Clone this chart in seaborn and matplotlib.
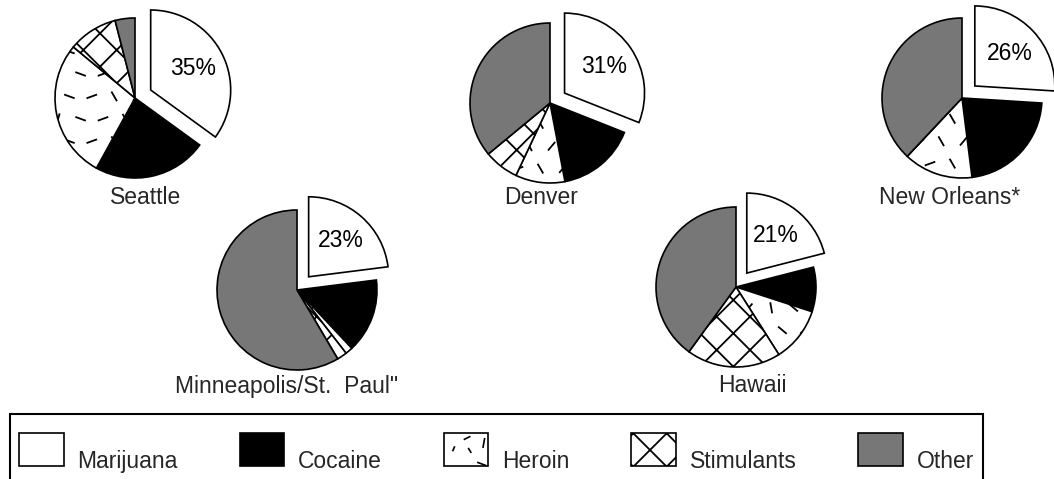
import numpy as np
import pandas as pd
import seaborn as sns
import matplotlib
matplotlib.use("Agg")
import matplotlib.pyplot as plt
from matplotlib.patches import Patch, Rectangle
from matplotlib.collections import LineCollection
from matplotlib.legend_handler import HandlerBase

# data (percent of arrestees by drug)
cities = ['Seattle', 'Denver', 'New Orleans*', 'Minneapolis/St.  Paul"', 'Hawaii']
drugs = ['Marijuana', 'Cocaine', 'Heroin', 'Stimulants', 'Other']
marijuana = [35, 31, 26, 23, 21]
cocaine = [23, 16, 22, 15, 9]
heroin = [28, 10, 14, 1.5, 11]
stimulants = [10, 7, 0, 2, 19]
other = [4, 36, 38, 58.5, 40]

df = pd.DataFrame({'Marijuana': marijuana, 'Cocaine': cocaine, 'Heroin': heroin,
                   'Stimulants': stimulants, 'Other': other}, index=cities)

W, H = 1054, 479
sns.set_theme(style="white")
plt.rcParams['font.family'] = ['Liberation Sans', 'DejaVu Sans']
plt.rcParams['hatch.linewidth'] = 1.3
FS = 16.5

GRAY = '#777777'
face = {'Marijuana': 'white', 'Cocaine': 'black', 'Heroin': 'white',
        'Stimulants': 'white', 'Other': GRAY}
hatch = {'Marijuana': '', 'Cocaine': '', 'Heroin': '', 'Stimulants': 'x', 'Other': ''}

# layout in pixels (centre of pie, centre of caption)
pie_xy = [(135, 98), (550, 103), (962, 98), (297, 290), (736, 287)]
cap_xy = [(146, 198), (541, 198), (950, 198), (287, 386), (752, 386)]
BOX = 240  # axes size in px, data range +-1.5 -> 80 px per unit


def dash_segments(lo=-1.1, hi=1.1, step=0.28, length=0.14):
    angs = [75, 160, 20, 120, 50, 100, 140, 35]
    segs = []
    k = 0
    for j, y in enumerate(np.arange(lo, hi, step)):
        shift = step / 2 if j % 2 else 0
        for x in np.arange(lo + shift, hi, step):
            a = np.deg2rad(angs[k % len(angs)])
            dx, dy = 0.5 * length * np.cos(a), 0.5 * length * np.sin(a)
            segs.append([(x - dx, y - dy), (x + dx, y + dy)])
            k += 1
    return segs


fig = plt.figure(figsize=(W / 100, H / 100), dpi=100)

for i, city in enumerate(cities):
    cx, cy = pie_xy[i]
    ax = fig.add_axes([(cx - BOX / 2) / W, 1 - (cy + BOX / 2) / H, BOX / W, BOX / H])
    vals = df.loc[city, drugs].values
    wedges, texts, autotexts = ax.pie(
        vals, explode=[0.22, 0, 0, 0, 0], startangle=90, counterclock=False,
        colors=[face[d] for d in drugs], hatch=[hatch[d] for d in drugs],
        autopct='%1.0f%%', pctdistance=0.6, radius=1,
        wedgeprops=dict(edgecolor='black', linewidth=1.2),
        textprops=dict(fontsize=FS, color='black'))
    for t in autotexts[1:]:
        t.set_text('')
    # scattered dash texture for heroin
    lc = LineCollection(dash_segments(), colors='black', linewidths=1.3)
    ax.add_collection(lc)
    lc.set_clip_path(wedges[2])
    ax.set_xlim(-1.5, 1.5)
    ax.set_ylim(-1.5, 1.5)
    ax.set_aspect('equal')
    ax.axis('off')
    lx, ly = cap_xy[i]
    fig.text(lx / W, 1 - ly / H, city, ha='center', va='center', fontsize=FS)


class DashBox(HandlerBase):
    def create_artists(self, legend, orig, xd, yd, w, h, fs, trans):
        box = Rectangle((-xd, -yd), w, h, facecolor='white', edgecolor='black',
                        lw=1.2, transform=trans)
        rel = [(0.2, 0.45, 0.25, 0.6), (0.55, 0.55, 0.62, 0.4), (0.45, 0.8, 0.6, 0.9),
               (0.88, 0.55, 0.92, 0.85), (0.75, 0.12, 0.95, 0.02)]
        segs = [[(-xd + w * a, -yd + h * b), (-xd + w * c, -yd + h * d)] for a, b, c, d in rel]
        lc = LineCollection(segs, colors='black', linewidths=1.2, transform=trans)
        return [box, lc]


# labels sit low beside their boxes, as in the print; the frame runs off the page
handles = [Patch(facecolor=face[d], edgecolor='black', hatch=hatch[d], lw=1.2, label='\n' + d)
           for d in drugs]
leg = fig.legend(handles=handles, loc='upper left', ncol=5, mode='expand',
                 bbox_to_anchor=(10 / W, 0, 973 / W, 1 - 414 / H), borderaxespad=0,
                 fontsize=FS, handlelength=1.95, handleheight=1.85, handletextpad=0.6,
                 borderpad=0.4, fancybox=False, framealpha=1,
                 handler_map={handles[2]: DashBox()})
leg.get_frame().set_edgecolor('black')
leg.get_frame().set_linewidth(1.5)

fig.savefig('out.png', dpi=100)
